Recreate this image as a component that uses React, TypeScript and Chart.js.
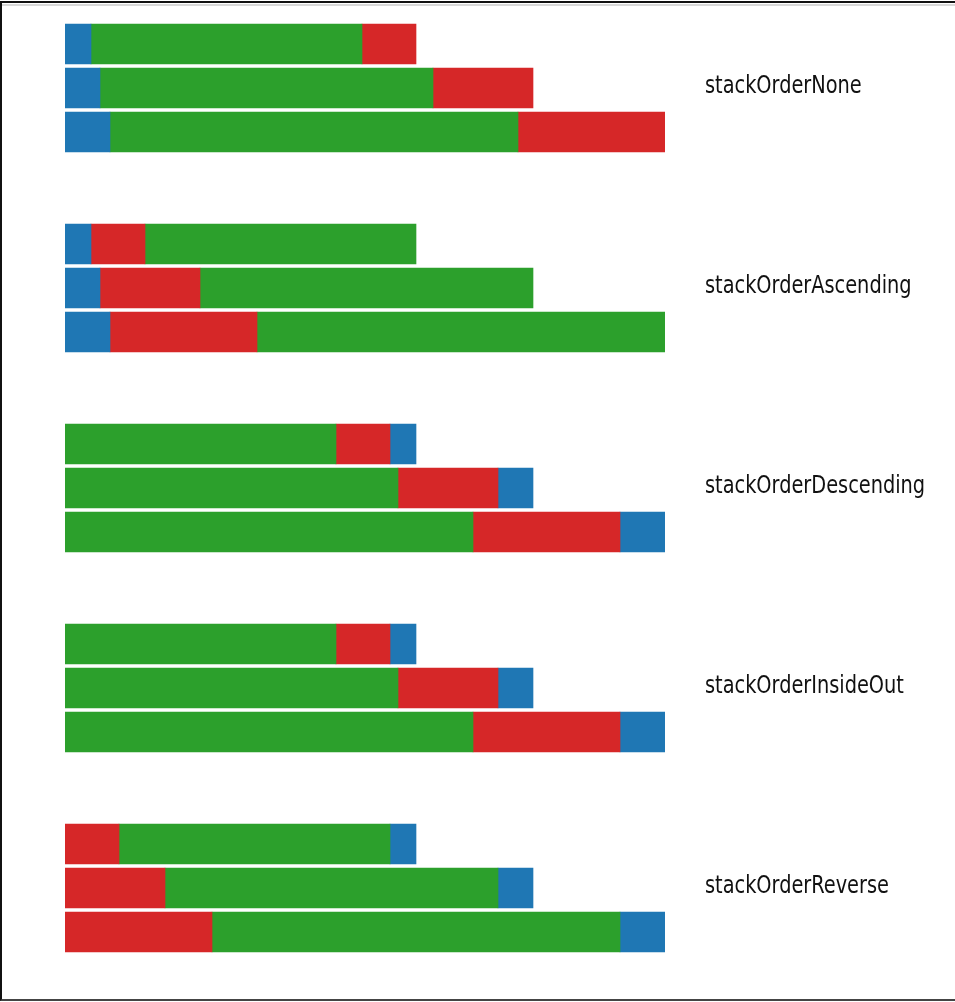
import React, { useEffect, useRef } from "react";
import { Chart, registerables } from "chart.js";

Chart.register(...registerables);

// Data (in pixel-proportional units; max total = 600)
const barLabels = ["row1", "row2", "row3"];
const seriesA = [26, 35, 45]; // blue
const seriesB = [271, 333, 408]; // green
const seriesC = [54, 100, 147]; // red
const seriesColors: Record<string, string> = { A: "#1f77b4", B: "#2ca02c", C: "#d62728" };
const groupTitles = [
  "stackOrderNone",
  "stackOrderAscending",
  "stackOrderDescending",
  "stackOrderInsideOut",
  "stackOrderReverse",
];
const groupOrders = [
  ["A", "B", "C"],
  ["A", "C", "B"],
  ["B", "C", "A"],
  ["B", "C", "A"],
  ["C", "B", "A"],
];
const xMax = 600;

const seriesValues: Record<string, number[]> = { A: seriesA, B: seriesB, C: seriesC };

function GroupChart({ index }: { index: number }) {
  const ref = useRef<HTMLCanvasElement | null>(null);
  useEffect(() => {
    if (!ref.current) return;
    const title = groupTitles[index];
    const labelPlugin = {
      id: "groupLabel",
      afterDraw(chart: any) {
        const ctx = chart.ctx;
        ctx.save();
        ctx.font = "25px 'DejaVu Sans Condensed', 'DejaVu Sans', sans-serif";
        ctx.fillStyle = "#111";
        ctx.textAlign = "left";
        ctx.textBaseline = "alphabetic";
        ctx.translate(705, 71);
        ctx.scale(0.86, 1);
        ctx.fillText(title, 0, 0);
        ctx.restore();
      },
    };
    const chart = new Chart(ref.current, {
      type: "bar",
      data: {
        labels: barLabels,
        datasets: groupOrders[index].map((key) => ({
          label: key,
          data: seriesValues[key],
          backgroundColor: seriesColors[key],
          borderWidth: 0,
          barThickness: 40,
        })),
      },
      options: {
        indexAxis: "y",
        responsive: false,
        maintainAspectRatio: false,
        devicePixelRatio: 1,
        animation: false,
        layout: { padding: { left: 65, right: 290, top: 0, bottom: 0 } },
        scales: {
          x: { type: "linear", min: 0, max: xMax, stacked: true, display: false },
          y: { type: "category", stacked: true, display: false, offset: true },
        },
        plugins: { legend: { display: false }, tooltip: { enabled: false } },
      },
      plugins: [labelPlugin],
    } as any);
    return () => chart.destroy();
  }, [index]);
  return (
    <canvas
      ref={ref}
      width={955}
      height={132}
      style={{ position: "absolute", left: 0, top: 22 + 200 * index, width: 955, height: 132 }}
    />
  );
}

export default function App() {
  useEffect(() => {
    document.body.style.margin = "0";
    document.body.style.background = "#fff";
  }, []);
  return (
    <div style={{ position: "relative", width: 955, height: 1002, overflow: "hidden", background: "#fff" }}>
      <div
        style={{
          position: "absolute",
          left: 0,
          top: 1,
          width: 970,
          height: 996,
          borderTop: "2px solid #111",
          borderLeft: "2px solid #111",
          borderBottom: "2px solid #444",
        }}
      />
      <div style={{ position: "absolute", left: 2, top: 4, width: 953, height: 2, background: "#d8d8d8" }} />
      {groupTitles.map((_, i) => (
        <GroupChart key={i} index={i} />
      ))}
    </div>
  );
}
